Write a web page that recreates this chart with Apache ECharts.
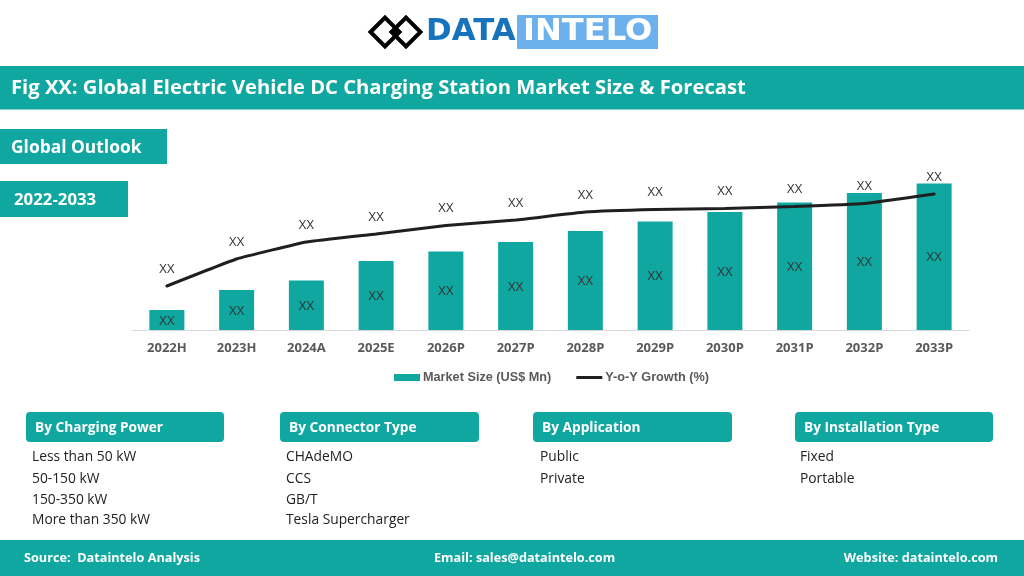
<!DOCTYPE html>
<html>
<head>
<meta charset="utf-8">
<title>Global Electric Vehicle DC Charging Station Market Size & Forecast</title>
<script src="https://cdn.jsdelivr.net/npm/echarts@6/dist/echarts.min.js"></script>
<style>
html, body { margin: 0; padding: 0; background: #fff; }
#chart { width: 1024px; height: 576px; }
</style>
</head>
<body>
<div id="chart"></div>
<script>
const categories = ['2022H', '2023H', '2024A', '2025E', '2026P', '2027P', '2028P', '2029P', '2030P', '2031P', '2032P', '2033P'];
const marketSize = [20, 40, 49.5, 69, 78.5, 88, 99, 108.5, 118, 127.5, 137, 146.5];
const yoyGrowth = [44, 71, 88, 96, 104.5, 110, 118, 120.5, 121.5, 123.5, 126.5, 136];
const pointLabel = 'XX';

const chargingPower = ['Less than 50 kW', '50-150 kW', '150-350 kW', 'More than 350 kW'];
const connectorType = ['CHAdeMO', 'CCS', 'GB/T', 'Tesla Supercharger'];
const application = ['Public', 'Private'];
const installationType = ['Fixed', 'Portable'];

const teal = '#10a7a0';
const font = '"Open Sans"';

function rect(x, y, w, h, fill, r) {
    return { type: 'rect', shape: { x: x, y: y, width: w, height: h, r: r || 0 }, style: { fill: fill } };
}

function text(str, x, y, size, weight, fill, align) {
    return {
        type: 'text',
        z: 10,
        style: {
            text: str, x: x, y: y,
            font: weight + ' ' + size + 'px ' + font,
            fill: fill,
            align: align || 'left',
            verticalAlign: 'middle'
        }
    };
}

function diamond(cx, cy, s, filled) {
    return {
        type: 'polygon',
        shape: { points: [[cx - s, cy], [cx, cy - s], [cx + s, cy], [cx, cy + s]] },
        style: filled ? { fill: '#000' } : { fill: 'none', stroke: '#000', lineWidth: 4 }
    };
}

// one box heading with its list of segments below
function segmentBlock(title, items, boxX, boxW, listX) {
    const rowY = [457.5, 479, 500, 520];
    const out = [rect(boxX, 412, boxW, 30, teal, 4), text(title, boxX + 9, 428.5, 13.7, 700, '#fff')];
    items.forEach(function (item, i) {
        out.push(text(item, listX, rowY[i], 13.8, 400, '#222'));
    });
    return out;
}

const logo = [
    diamond(385, 32, 14.5),
    diamond(406, 32, 14.5),
    diamond(395.5, 32, 3, true),
    rect(517, 15, 141, 34, '#6cb0ec'),
    {
        type: 'text', z: 10, x: 426, scaleX: 1.03,
        style: { text: 'DATA', x: 0, y: 32.5, font: '700 30px "DejaVu Sans"', fill: '#1873bd', align: 'left', verticalAlign: 'middle' }
    },
    {
        type: 'text', z: 10, x: 523, scaleX: 1.07,
        style: { text: 'INTELO', x: 0, y: 32.5, font: '700 30px "DejaVu Sans"', fill: '#fff', align: 'left', verticalAlign: 'middle' }
    }
];

const page = [].concat(
    logo,
    [
        rect(0, 66, 1024, 43.5, teal),
        text('Fig XX: Global Electric Vehicle DC Charging Station Market Size & Forecast', 11, 88.5, 20.2, 700, '#fff'),
        rect(0, 129, 167, 35, teal),
        text('Global Outlook', 11, 148, 17.4, 700, '#fff'),
        rect(0, 181, 128, 36, teal),
        text('2022-2033', 14, 200, 16.8, 700, '#fff')
    ],
    segmentBlock('By Charging Power', chargingPower, 26, 198, 32),
    segmentBlock('By Connector Type', connectorType, 280, 199, 286),
    segmentBlock('By Application', application, 533, 199, 540),
    segmentBlock('By Installation Type', installationType, 795, 198, 800),
    [
        rect(0, 540, 1024, 36, teal),
        text('Source:  Dataintelo Analysis', 24, 558, 12.7, 700, '#fff'),
        text('Email: sales@dataintelo.com', 434, 558, 12.7, 700, '#fff'),
        text('Website: dataintelo.com', 998, 558, 12.7, 700, '#fff', 'right')
    ]
);

const chart = echarts.init(document.getElementById('chart'));
chart.setOption({
    animation: false,
    backgroundColor: '#fff',
    textStyle: { fontFamily: font },
    graphic: page,
    grid: { left: 132, right: 55, top: 160, bottom: 246 },
    legend: {
        left: 389,
        top: 366,
        itemWidth: 26,
        itemHeight: 7,
        itemGap: 25,
        textStyle: { color: '#595959', fontSize: 12.7, fontWeight: 700, fontFamily: '"Liberation Sans"', padding: [0, 0, 0, -2] },
        data: [
            { name: 'Market Size (US$ Mn)', icon: 'rect' },
            { name: 'Y-o-Y Growth (%)', icon: 'path://M0 0H26V3H0Z' }
        ]
    },
    xAxis: {
        type: 'category',
        data: categories,
        axisLine: { lineStyle: { color: '#d9d9d9', width: 1 } },
        axisTick: { show: false },
        axisLabel: { color: '#595959', fontSize: 13, fontWeight: 700, margin: 12, fontFamily: font }
    },
    yAxis: { type: 'value', min: 0, max: 170, show: false },
    series: [
        {
            name: 'Market Size (US$ Mn)',
            type: 'bar',
            data: marketSize,
            barWidth: 35,
            itemStyle: { color: teal },
            label: {
                show: true,
                position: 'inside',
                offset: [0, 1],
                formatter: pointLabel,
                color: '#333',
                fontSize: 13,
                fontFamily: font
            }
        },
        {
            name: 'Y-o-Y Growth (%)',
            type: 'line',
            data: yoyGrowth,
            smooth: 0.1,
            symbol: 'circle',
            symbolSize: 1,
            itemStyle: { color: '#1f1f1f' },
            lineStyle: { color: '#1f1f1f', width: 3, cap: 'round' },
            label: {
                show: true,
                position: 'top',
                distance: 10,
                formatter: pointLabel,
                color: '#333',
                fontSize: 13,
                fontFamily: font
            }
        }
    ]
});
</script>
</body>
</html>
